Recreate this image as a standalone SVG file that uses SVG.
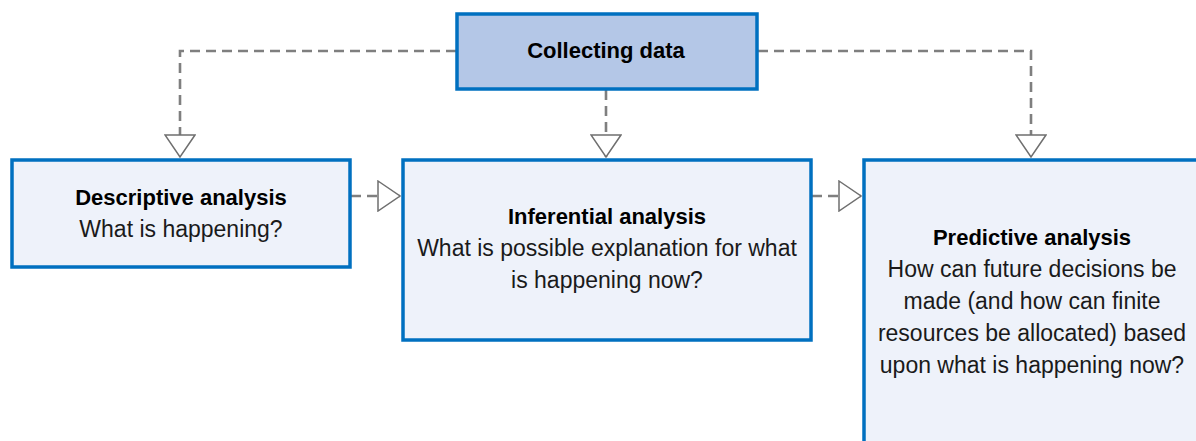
<svg xmlns="http://www.w3.org/2000/svg" width="1196" height="441" viewBox="0 0 1196 441">
<defs>
<marker id="tri" viewBox="0 0 24 32" refX="23" refY="16" markerWidth="24" markerHeight="32" markerUnits="userSpaceOnUse" orient="auto">
<path d="M1,1 L23,16 L1,31 Z" fill="#ffffff" stroke="#6f6f6f" stroke-width="1.5"/>
</marker>
<style>
.box{fill:#eef2fa;stroke:#0070c0;stroke-width:3.5}
.top{fill:#b4c7e7;stroke:#0070c0;stroke-width:3.5}
.con{fill:none;stroke:#7f7f7f;stroke-width:2.6;stroke-dasharray:10,6}
text{font-family:"Liberation Sans",Arial,sans-serif;font-size:23px;fill:#1a1a1a;text-anchor:middle}
.b{font-weight:bold;fill:#000;font-size:22px}
</style>
</defs>
<g id="connectors">
<path class="con" d="M456,51 H180 V157" marker-end="url(#tri)"/>
<path class="con" d="M606,90 V157" marker-end="url(#tri)"/>
<path class="con" d="M758,51 H1031 V157" marker-end="url(#tri)"/>
<path class="con" d="M351,196 H400" marker-end="url(#tri)"/>
<path class="con" d="M812,196 H861" marker-end="url(#tri)"/>
</g>
<g id="collecting">
<rect class="top" x="457" y="14" width="300" height="75"/>
<text class="b" x="606" y="58">Collecting data</text>
</g>
<g id="descriptive">
<rect class="box" x="12" y="160" width="338" height="107"/>
<text class="b" x="181" y="205">Descriptive analysis</text>
<text x="181" y="237">What is happening?</text>
</g>
<g id="inferential">
<rect class="box" x="403" y="160" width="408" height="180"/>
<text class="b" x="607" y="224">Inferential analysis</text>
<text x="607" y="256">What is possible explanation for what</text>
<text x="607" y="288">is happening now?</text>
</g>
<g id="predictive">
<rect class="box" x="864" y="160" width="340" height="290"/>
<text class="b" x="1032" y="245">Predictive analysis</text>
<text x="1032" y="277">How can future decisions be</text>
<text x="1032" y="309">made (and how can finite</text>
<text x="1032" y="341">resources be allocated) based</text>
<text x="1032" y="373">upon what is happening now?</text>
</g>
</svg>
